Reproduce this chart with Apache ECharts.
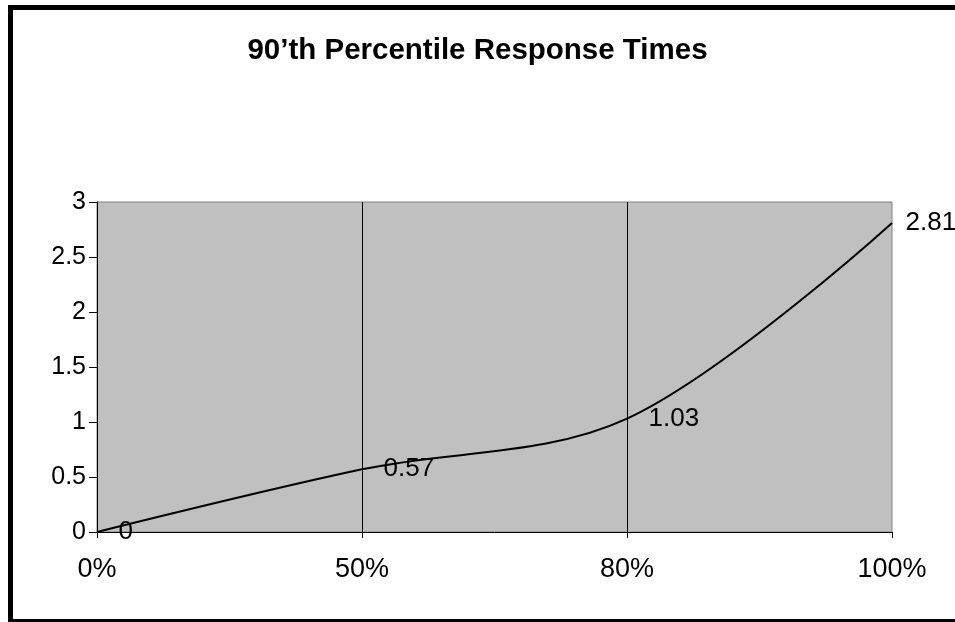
<!DOCTYPE html>
<html>
<head>
<meta charset="utf-8">
<script src="https://cdn.jsdelivr.net/npm/echarts@6/dist/echarts.min.js"></script>
<style>
html,body{margin:0;padding:0;background:#fff;}
#chart{width:955px;height:622px;}
</style>
</head>
<body>
<div id="chart"></div>
<script>
const titleText = "90\u2019th Percentile Response Times";
const categories = ["0%", "50%", "80%", "100%"];
const responseTimes = [0, 0.57, 1.03, 2.81];
const yTicks = { min: 0, max: 3, interval: 0.5 };

const chart = echarts.init(document.getElementById('chart'), null, { renderer: 'canvas' });
const font = '"Liberation Sans", Arial, sans-serif';

chart.setOption({
  animation: false,
  backgroundColor: '#ffffff',
  title: {
    text: titleText,
    left: 'center',
    top: 31,
    textStyle: { fontFamily: font, fontSize: 29.5, fontWeight: 'bold', color: '#000' }
  },
  graphic: [{
    type: 'rect',
    shape: { x: 10.5, y: 7.5, width: 1000, height: 614 },
    style: { fill: null, stroke: '#000', lineWidth: 5 },
    silent: true
  }],
  grid: {
    left: 97, right: 63, top: 202, bottom: 90,
    show: true, backgroundColor: '#c0c0c0', borderColor: '#808080', borderWidth: 1
  },
  xAxis: {
    type: 'category',
    data: categories,
    boundaryGap: false,
    axisLine: { show: true, lineStyle: { color: '#000', width: 1 } },
    axisTick: { show: true, inside: false, length: 6, lineStyle: { color: '#000' } },
    axisLabel: { fontFamily: font, fontSize: 27, color: '#000', margin: 24 },
    splitLine: {
      show: true,
      interval: function (index) { return index > 0 && index < categories.length - 1; },
      lineStyle: { color: '#000', width: 1 }
    }
  },
  yAxis: {
    type: 'value',
    min: yTicks.min, max: yTicks.max, interval: yTicks.interval,
    axisLine: { show: true, lineStyle: { color: '#000', width: 1 } },
    axisTick: { show: true, inside: false, length: 8, lineStyle: { color: '#000' } },
    axisLabel: { fontFamily: font, fontSize: 25, color: '#000', margin: 11 },
    splitLine: { show: false }
  },
  series: [{
    type: 'line',
    data: responseTimes.map(function (v, i) {
      return i === responseTimes.length - 1 ? { value: v, label: { distance: 13 } } : v;
    }),
    smooth: 0.34,
    symbol: 'circle',
    symbolSize: 1,
    showSymbol: true,
    itemStyle: { color: 'rgba(0,0,0,0)', borderWidth: 0 },
    lineStyle: { color: '#000', width: 2 },
    label: {
      show: true,
      position: 'right',
      distance: 21,
      fontFamily: font,
      fontSize: 26,
      color: '#000',
      formatter: function (p) { return String(p.value); }
    }
  }]
});
</script>
</body>
</html>
